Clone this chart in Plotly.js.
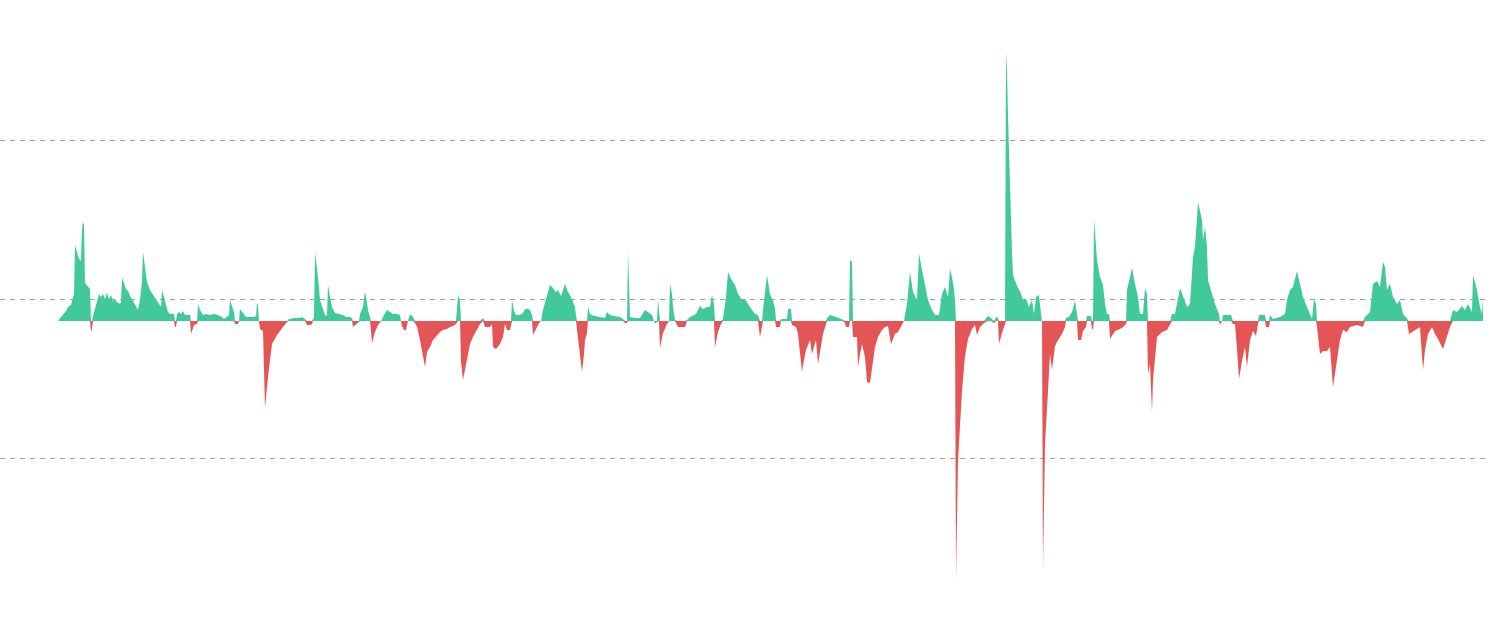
<!DOCTYPE html>
<html>
<head>
<meta charset="utf-8">
<script src="https://cdn.plot.ly/plotly-3.0.1.min.js"></script>
<style>html,body{margin:0;padding:0;background:#fff;}#chart{width:1490px;height:633px;}</style>
</head>
<body>
<div id="chart"></div>
<script>
// time index (period) and value readings
const t = [58,62,66,68,71,73,74,75,77,79,81,82,83,84,85,88,90,91,92,93,95,97,99,101,103,105,107,109,111,113,115,117,120,121,122,124,126,128,130,133,136,138,140,142,143,145,147,150,153,156,159,161,162,164,167,168,170,174,175,176,177,179,181,183,185,188,190,191,192,194,197,198,200,203,206,210,214,218,222,224,229,230,232,234,235,238,239,240,243,246,250,254,256,257,258,259,260,263,265,268,272,277,283,287,289,295,
300,302,305,307,310,312,313,314,315,318,320,323,325,327,328,330,332,335,340,343,346,350,352,353,356,359,360,363,365,366,368,370,371,372,375,378,381,384,387,390,393,397,400,401,402,404,406,408,410,413,415,417,420,423,425,427,430,433,437,440,443,447,450,453,456,458,460,461,463,467,470,473,477,480,483,485,490,492,493,496,500,503,505,507,510,511,512,514,516,520,523,525,528,530,532,533,536,539,
541,543,547,550,553,556,558,561,565,568,571,575,576,577,580,582,584,585,587,588,590,594,600,605,607,610,614,620,623,625,627,628,629,630,635,640,645,648,652,654,655,657,658,659,660,663,667,669,670,672,673,675,678,685,687,690,696,700,703,707,710,712,714,715,718,721,723,726,728,731,735,738,742,745,748,752,755,758,760,762,763,767,770,773,775,776,780,781,787,788,791,792,796,798,800,802,803,806,810,812,814,816,818,820,823,826,827,830,836,843,845,846,849,850,852,853,857,858,860,862,865,867,870,872,875,878,882,885,888,891,895,898,902,904,905,907,910,913,917,919,922,925,928,932,935,939,942,945,948,950,952,954,955,
956,958,962,965,968,972,975,977,980,984,988,991,994,996,998,999,1002,1005,1006,1007,1008,1010,1012,1013,1017,1020,1023,1026,1029,1032,1034,1036,1039,1041,1042,1043,1045,1048,1050,1052,1055,1058,1062,1065,1066,1069,1072,1075,1077,1078,1081,1083,1086,1087,1091,1092,1093,1094,1097,1100,1103,1105,1107,1109,1110,1115,1120,1123,1126,1127,1132,1135,1138,1140,1143,1145,1147,1148,1150,1152,1153,1157,1162,1167,1170,1172,1175,1180,1183,1187,1190,1193,1195,1198,1200,1202,1203,1205,1207,1208,1212,1215,1219,1220,1222,1223,1231,1233,1235,1237,1239,1242,1245,1247,1250,1253,1256,1258,1259,1265,1266,1269,1270,1273,1280,1285,1287,1290,1293,1297,1300,1303,1307,1310,1312,1314,1316,1317,1320,1323,1327,1330,1333,1337,1340,1343,1347,1350,1357,1363,1365,1370,1373,1377,1380,1383,1385,1387,1390,1393,1397,1400,1403,1407,1409,1415,1420,1423,1425,1428,1432,1435,1438,1443,1447,1450,1453,1457,1462,1465,1468,1472,1473,1477,1480,1482,1483];
const v = [0,5,10,14,16,24,26,76,70,62,60,92,99,96,38,35,32,-11,-8,5,12,20,27,24,27,22,28,22,26,20,22,19,17,19,43,38,32,30,25,20,15,11,21,40,69,54,39,31,26,21,17,14,31,24,14,9,7,7,-6,-6,7,9,7,10,6,6,6,-13,-10,-4,-3,17,11,6,7,6,7,6,4,2,6,21,14,9,-3,-3,0,12,8,4,4,4,5,18,16,0,-8,-10,-87,-56,-23,-14,-6,-1,2,3,
3,4,2,-4,-4,-3,2,3,69,44,21,11,6,5,36,24,14,8,7,6,4,4,3,-6,-3,-1,7,14,29,25,11,3,-10,-22,-11,-4,0,6,11,9,7,7,6,0,-5,-9,-9,0,7,4,-2,-6,-19,-36,-46,-31,-26,-19,-14,-11,-9,-8,-6,-5,-3,26,20,-40,-59,-36,-23,-16,-9,-3,3,-6,-6,-3,-26,-28,-23,-16,-3,-9,-9,-2,21,10,6,6,8,12,12,11,6,-14,-8,-2,
0,11,24,36,33,29,31,25,37,29,24,14,5,-9,-36,-51,-33,-19,-12,14,7,5,4,3,9,6,5,4,2,-2,-2,69,37,4,3,3,11,9,6,0,-2,-1,21,5,-27,-12,-3,0,37,27,14,1,-6,-6,1,4,7,15,12,14,14,26,17,-26,-11,-3,2,24,49,42,36,27,21,22,17,11,7,6,-16,-4,11,46,27,20,13,-6,-6,2,2,12,12,-4,-6,-13,-36,-51,-44,-29,-19,-33,-26,-19,-43,-29,-13,-3,3,6,4,1,-2,-6,-6,61,59,-16,-16,-46,-33,-23,-36,-61,-62,-46,-26,-16,-9,-6,-5,-23,-13,-11,-3,0,6,17,49,29,21,68,51,34,21,11,6,6,27,34,24,52,44,31,21,
-259,-140,-70,-35,-18,-8,-4,-14,-6,-2,5,3,-2,4,3,-23,-12,-4,269,250,204,123,70,46,35,30,21,22,14,21,7,24,26,7,0,-249,-123,-70,-33,-49,-25,-19,-13,-6,3,4,9,20,7,-19,-19,-10,-6,5,5,-8,-8,102,61,44,36,17,7,7,-18,-10,-8,-6,-3,31,53,37,24,7,7,33,27,-53,-43,-91,-59,-16,-11,-9,-4,7,7,33,24,14,17,64,74,119,110,101,81,94,74,41,27,17,7,-4,0,6,6,-3,-3,-29,-58,-40,-26,-46,-19,-10,-15,-3,6,6,-6,-6,6,2,4,7,21,31,34,50,37,24,14,7,2,22,17,-6,-33,-30,-30,-26,-66,-39,-19,-9,-11,-6,-4,-6,4,9,37,40,34,59,54,31,37,24,17,21,7,2,-13,-9,-6,-49,-29,-13,-6,-13,-18,-28,-16,-6,11,9,15,11,17,9,46,31,14,7,22];

const gridVals = [-137, 22, 181];
const green = '#41c99a';
const red = '#e45555';

const pos = v.map(x => Math.max(x, 0));
const neg = v.map(x => Math.min(x, 0));

const traces = [
  {x: t, y: pos, type: 'scatter', mode: 'lines', fill: 'tozeroy', fillcolor: green, line: {width: 0, color: green}, hoverinfo: 'skip'},
  {x: t, y: neg, type: 'scatter', mode: 'lines', fill: 'tozeroy', fillcolor: red, line: {width: 0, color: red}, hoverinfo: 'skip'}
];

const layout = {
  width: 1490, height: 633,
  margin: {l: 0, r: 3, t: 0, b: 0, pad: 0},
  paper_bgcolor: '#ffffff', plot_bgcolor: '#ffffff',
  showlegend: false,
  xaxis: {range: [0, 1487], showgrid: false, zeroline: false, showticklabels: false, showline: false, ticks: ''},
  yaxis: {range: [-312, 321], tickmode: 'array', tickvals: gridVals, showticklabels: false, ticks: '',
          showgrid: true, gridcolor: '#a0a0a0', gridwidth: 1, griddash: '5px,5px', zeroline: false, showline: false}
};

Plotly.newPlot('chart', traces, layout, {staticPlot: true, displayModeBar: false});
</script>
</body>
</html>
